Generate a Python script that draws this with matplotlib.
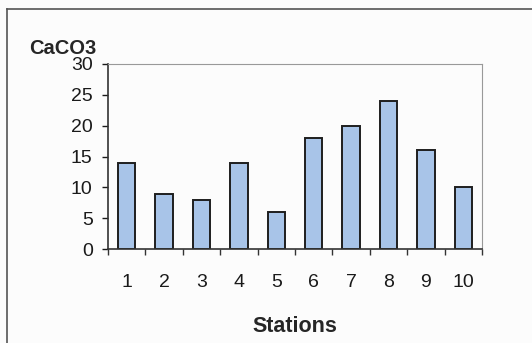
import matplotlib.pyplot as plt
from matplotlib.lines import Line2D
import numpy as np

plt.rcParams['font.family'] = ['Liberation Sans', 'DejaVu Sans']

# Data
stations = [1, 2, 3, 4, 5, 6, 7, 8, 9, 10]
caco3 = [14, 9, 8, 14, 6, 18, 20, 24, 16, 10]

fig = plt.figure(figsize=(5.32, 3.43), dpi=100)
fig.patch.set_facecolor('#fcfcfc')

# Outer chart frame (left and top edges visible)
fig.add_artist(Line2D([7/532, 7/532], [0, 1 - 9/343], transform=fig.transFigure,
                      color='#555555', lw=1.2))
fig.add_artist(Line2D([7/532, 1], [1 - 9/343, 1 - 9/343], transform=fig.transFigure,
                      color='#555555', lw=1.2))

ax = fig.add_axes([108/532, 1 - 249/343, 374/532, 185/343])
ax.set_facecolor('#fcfcfc')

x = np.arange(len(stations))
ax.bar(x, caco3, width=0.47, color='#a8c4e8', edgecolor='#1e1e1e', linewidth=1.4)

ax.set_xlim(-0.5, len(stations) - 0.5)
ax.set_ylim(0, 30)
ax.set_yticks(range(0, 31, 5))
ax.set_xticks(x)
ax.set_xticklabels([str(s) for s in stations])
ax.set_xticks(np.arange(-0.5, len(stations)), minor=True)
ax.tick_params(axis='x', which='major', length=0, pad=18, labelsize=14, colors='#1a1a1a')
ax.tick_params(axis='x', which='minor', length=4, width=1, direction='out', color='#333333')
ax.tick_params(axis='y', length=4, width=1, direction='out', labelsize=14, pad=7,
               colors='#1a1a1a')

for side in ['top', 'right']:
    ax.spines[side].set_color('#999999')
    ax.spines[side].set_linestyle((0, (2, 1)))
    ax.spines[side].set_linewidth(0.8)
for side in ['left', 'bottom']:
    ax.spines[side].set_color('#333333')
    ax.spines[side].set_linewidth(1.2)

ax.set_xlabel('Stations', fontsize=15.5, fontweight='bold', labelpad=18, color='#262626')
fig.text(29/532, 1 - 48/343, 'CaCO3', fontsize=14.5, fontweight='bold', va='center',
         ha='left', color='#262626')

fig.savefig('out.png', dpi=100, facecolor=fig.get_facecolor())
